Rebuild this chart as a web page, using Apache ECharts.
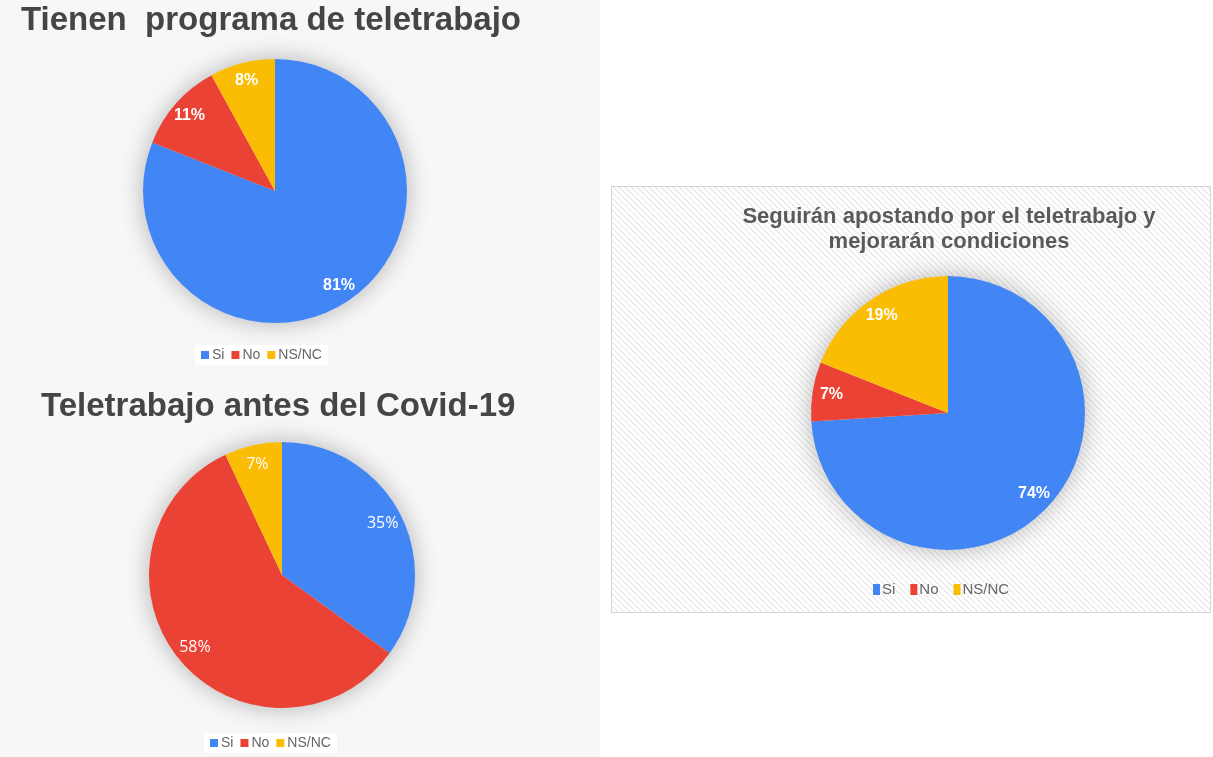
<!DOCTYPE html>
<html>
<head>
<meta charset="utf-8">
<script src="https://cdn.jsdelivr.net/npm/echarts@6/dist/echarts.min.js"></script>
<style>
  html, body { margin: 0; padding: 0; background: #ffffff; }
  #main { width: 1213px; height: 757px; }
</style>
</head>
<body>
<div id="main"></div>
<script>
// Survey answers, percent of respondents
const categories = ['Si', 'No', 'NS/NC'];
const programaValues = [81, 11, 8];      // Tienen programa de teletrabajo
const antesCovidValues = [35, 58, 7];    // Teletrabajo antes del Covid-19
const seguiranValues = [74, 7, 19];      // Seguirán apostando por el teletrabajo
const chartTitles = [
  'Tienen  programa de teletrabajo',
  'Teletrabajo antes del Covid-19',
  'Seguirán apostando por el teletrabajo y\nmejorarán condiciones'
];
const sliceColors = ['#4285F4', '#EA4335', '#FBBC04'];

// Light diagonal hatch used behind the third chart
function hatchCanvas() {
  const c = document.createElement('canvas');
  c.width = 6; c.height = 6;
  const g = c.getContext('2d');
  g.fillStyle = '#ffffff';
  g.fillRect(0, 0, 6, 6);
  g.strokeStyle = '#e6e6e6';
  g.lineWidth = 1.2;
  g.beginPath();
  g.moveTo(-1, -1); g.lineTo(7, 7);
  g.moveTo(-1, 5); g.lineTo(1, 7);
  g.moveTo(5, -1); g.lineTo(7, 1);
  g.stroke();
  return c;
}

const pies = [
  { values: programaValues, center: [275, 191], r: 132, labelR: 90,
    label: { fontFamily: 'Liberation Sans', fontWeight: 'bold', fontSize: 16 } },
  { values: antesCovidValues, center: [282, 575], r: 133, labelR: 87,
    label: { fontFamily: 'Open Sans', fontWeight: 'normal', fontSize: 16 } },
  { values: seguiranValues, center: [948, 413], r: 137, labelR: 93,
    label: { fontFamily: 'Liberation Sans', fontWeight: 'bold', fontSize: 16 } }
];

function sliceData(values) {
  return categories.map((name, i) => ({ name, value: values[i] }));
}

const series = [];
pies.forEach((p, k) => {
  const total = p.values.reduce((a, b) => a + b, 0);
  // soft halo under the disc
  series.push({
    type: 'pie', name: 'halo' + k, silent: true, center: p.center, radius: [0, p.r],
    label: { show: false }, labelLine: { show: false }, emphasis: { disabled: true },
    itemStyle: { color: '#e8e8e8', shadowBlur: 24, shadowColor: 'rgba(0,0,0,0.28)' },
    data: [{ name: '__total' + k, value: total }]
  });
  // slices
  series.push({
    type: 'pie', name: 'pie' + k, center: p.center, radius: [0, p.r],
    startAngle: 90, clockwise: true, color: sliceColors,
    label: { show: false }, labelLine: { show: false },
    emphasis: { scale: false },
    itemStyle: { borderWidth: 0 },
    data: sliceData(p.values)
  });
  // percentage labels, placed near the rim
  series.push({
    type: 'pie', name: 'labels' + k, silent: true, center: p.center, radius: [p.labelR, p.r],
    startAngle: 90, clockwise: true,
    itemStyle: { color: 'rgba(0,0,0,0)' },
    emphasis: { disabled: true },
    labelLine: { show: false },
    label: Object.assign({ show: true, position: 'inside', color: '#ffffff', formatter: '{c}%' }, p.label),
    data: sliceData(p.values)
  });
});

const legendBase = {
  data: categories, icon: 'rect', orient: 'horizontal',
  selectedMode: false
};

const option = {
  animation: false,
  backgroundColor: '#ffffff',
  graphic: [
    { type: 'rect', z: -10, silent: true, shape: { x: 0, y: 0, width: 600, height: 757 },
      style: { fill: '#f7f7f7' } },
    { type: 'rect', z: -10, silent: true, shape: { x: 611.5, y: 186.5, width: 599, height: 426 },
      style: { fill: { image: hatchCanvas(), repeat: 'repeat' }, stroke: '#d4d4d4', lineWidth: 1 } }
  ],
  title: [
    { text: chartTitles[0], left: 21, top: 1, padding: 0,
      textStyle: { fontFamily: 'Liberation Sans', fontSize: 33, fontWeight: 'bold', color: '#454545', lineHeight: 40 } },
    { text: chartTitles[1], left: 41, top: 387, padding: 0,
      textStyle: { fontFamily: 'Liberation Sans', fontSize: 33, fontWeight: 'bold', color: '#454545', lineHeight: 40 } },
    { text: chartTitles[2], left: 949, top: 204, padding: 0, textAlign: 'center',
      textStyle: { fontFamily: 'Liberation Sans', fontSize: 22, fontWeight: 'bold', color: '#5a5a5a', lineHeight: 25, align: 'center' } }
  ],
  legend: [
    Object.assign({}, legendBase, {
      left: 195, top: 345, itemWidth: 8, itemHeight: 8, itemGap: 7,
      backgroundColor: '#ffffff', padding: [3, 6],
      textStyle: { fontFamily: 'Liberation Sans', fontSize: 14, color: '#666666', padding: [0, 0, 0, -2] }
    }),
    Object.assign({}, legendBase, {
      left: 204, top: 733, itemWidth: 8, itemHeight: 8, itemGap: 7,
      backgroundColor: '#ffffff', padding: [3, 6],
      textStyle: { fontFamily: 'Liberation Sans', fontSize: 14, color: '#666666', padding: [0, 0, 0, -2] }
    }),
    Object.assign({}, legendBase, {
      left: 868, top: 578, itemWidth: 7, itemHeight: 11, itemGap: 15, padding: [4, 5],
      textStyle: { fontFamily: 'Liberation Sans', fontSize: 15, color: '#666666', padding: [0, 0, 0, -3] }
    })
  ],
  series
};

const chart = echarts.init(document.getElementById('main'), null, { renderer: 'canvas' });
chart.setOption(option);
</script>
</body>
</html>
